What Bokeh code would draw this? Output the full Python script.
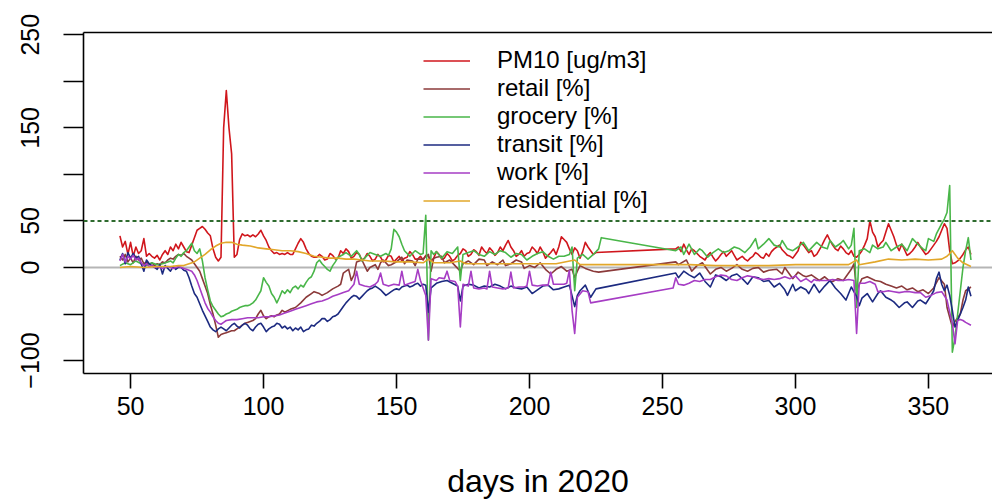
from bokeh.plotting import figure
from bokeh.models import Range1d, LinearAxis, Span, Legend, LegendItem, FixedTicker
from bokeh.embed import file_html
from bokeh.resources import INLINE

# ---- data (day of 2020, value) ----
pm10 = [(46,34),(47,22),(48,28),(49,14),(50,27),(51,12),(52,22),(53,15),(54,18),(55,31),(56,12),(57,15),
        (58,12),(59,10),(60,13),(61,8),(62,14),(63,18),(64,14),(65,22),(66,18),(67,25),(68,20),(69,27),
        (70,22),(71,17),(72,16),(73,24),(74,32),(75,40),(76,42),(77,44),(78,41),(79,37),(80,34),(81,20),
        (82,11),(83,7),(84,11),(85,150),(86,190),(87,150),(88,122),(89,11),(90,14),(91,30),(92,36),(93,34),
        (94,35),(95,33),(96,35),(97,33),(98,36),(99,40),(100,34),(101,29),(102,22),(103,18),(104,15),
        (105,16),(106,14),(107,15),(108,14),(109,16),(110,14),(111,14),(112,20),(113,26),(114,31),(115,27),
        (116,20),(117,15),(118,12),(119,11),(120,11),(121,14),(122,12),(123,8),(124,9),(125,15),(126,13),
        (127,9),(128,10),(129,18),(130,15),(131,20),(132,17),(133,10),(134,12),(135,16),(136,14),(137,8),
        (138,10),(139,15),(140,12),(141,7),(142,9),(143,14),(144,11),(145,6),(146,8),(147,13),(148,12),
        (149,6),(150,9),(151,12),(152,7),(153,10),(154,11),(155,17),(156,14),(157,9),(158,9),(159,12),
        (160,8),(161,13),(162,12),(163,7),(164,10),(165,17),(166,14),(167,9),(168,10),(169,15),(170,12),
        (171,7),(172,9),(173,13),(174,15),(175,20),(176,18),(177,12),(178,14),(179,19),(180,17),(181,13),
        (182,22),(183,18),(184,15),(185,21),(186,18),(187,13),(188,16),(189,22),(190,18),(191,24),(192,29),
        (193,22),(194,18),(195,12),(196,14),(197,18),(198,12),(199,15),(200,16),(201,22),(202,19),(203,15),
        (204,22),(205,17),(206,10),(207,13),(208,16),(209,20),(210,14),(211,22),(212,33),(213,30),(214,27),
        (215,20),(216,14),(217,21),(218,18),(219,10),(220,17),(221,27),(222,22),(223,18),(224,14),(225,16),
        (255,20),(256,22),(257,17),(258,25),(259,19),(260,14),(261,20),(262,18),(263,15),(264,12),(265,10),
        (266,8),(267,13),(268,16),(269,11),(270,7),(271,10),(272,14),(273,17),(274,12),(275,15),(276,18),
        (277,13),(278,8),(279,10),(280,12),(281,9),(282,7),(283,10),(284,12),(285,16),(286,14),(287,11),
        (288,10),(289,15),(290,12),(291,17),(292,20),(293,22),(294,24),(295,19),(296,16),(297,13),(298,12),
        (299,10),(300,14),(301,18),(302,27),(303,24),(304,20),(305,16),(306,18),(307,12),(308,14),(309,19),
        (310,24),(311,30),(312,35),(313,29),(314,24),(315,20),(316,18),(317,23),(318,20),(319,16),(320,14),
        (321,18),(322,12),(323,11),(324,14),(325,18),(326,24),(327,31),(328,50),(329,38),(330,33),
        (331,22),(332,26),(333,29),(334,38),(335,47),(336,40),(337,33),(338,24),(339,18),(340,25),(341,19),
        (342,13),(343,15),(344,18),(345,22),(346,27),(347,22),(348,18),(349,14),(350,16),(351,20),(352,24),
        (353,28),(354,33),(355,40),(356,47),(357,42),(358,18),(359,4),(360,5),(361,7),(362,10),(363,14),
        (364,19),(365,22),(366,14)]

retail = [(46,12),(47,8),(48,14),(49,6),(50,10),(51,5),(52,12),(53,8),(54,10),(55,4),(56,6),(57,3),(58,5),
          (59,2),(60,4),(61,3),(62,6),(63,5),(64,8),(65,10),(66,9),(67,12),(68,14),(69,13),(70,15),(71,12),
          (72,10),(73,8),(74,4),(75,0),(76,-4),(77,-12),(78,-20),(79,-28),(80,-40),(81,-50),(82,-62),(83,-75),
          (84,-72),(85,-71),(86,-70),(87,-69),(88,-68),(89,-68),(90,-66),(91,-64),(92,-62),(93,-60),(94,-59),
          (95,-58),(96,-57),(97,-55),(98,-50),(99,-46),(100,-52),(101,-55),(102,-53),(103,-52),(104,-53),
          (105,-51),(106,-50),(107,-46),(108,-48),(110,-45),(112,-43),(114,-38),(116,-32),(118,-28),(119,-26),
          (121,-28),(122,-30),(124,-27),(126,-23),(128,-20),(129,-18),(130,-6),(131,-4),(132,-2),(133,-14),
          (134,-8),(135,6),(136,7),(137,8),(138,2),(139,-4),(140,0),(142,3),(143,-2),(144,5),(145,8),(147,2),
          (148,3),(150,6),(152,11),(153,4),(154,8),(156,7),(157,2),(158,9),(160,9),(161,12),(162,14),(163,-4),
          (164,10),(165,11),(167,12),(168,5),(170,8),(172,2),(174,-4),(175,4),(177,7),(179,3),(181,9),(183,8),
          (184,2),(186,6),(188,3),(190,8),(191,2),(193,4),(195,8),(197,6),(198,-1),(200,2),(202,0),(204,5),
          (206,-2),(208,-7),(210,-2),(212,1),(214,-4),(216,-2),(217,-11),(218,-4),(219,2),(221,-1),(224,-4),
          (226,-5),(255,6),(256,3),(259,8),(261,-4),(263,2),(265,5),(268,-7),(270,-2),(272,0),(274,-4),
          (276,-1),(278,3),(280,-2),(282,-4),(284,-1),(286,0),(288,-5),(290,-3),(293,-2),(295,-7),(296,0),
          (298,-8),(299,-12),(301,-5),(303,-9),(304,-10),(306,-8),(308,-12),(309,-14),(311,-10),(313,-15),
          (314,-15),(316,-12),(318,-14),(319,-10),(321,-2),(322,4),(323,-25),(325,-12),(327,-10),(330,-14),
          (332,-15),(334,-18),(336,-20),(338,-22),(340,-20),(342,-24),(344,-22),(346,-26),(348,-24),(350,-28),
          (352,-22),(354,-11),(356,-18),(357,-43),(359,-64),(360,-58),(362,-50),(363,-35),(364,-25),(366,-21)]

grocery = [(46,2),(48,5),(50,3),(52,7),(54,4),(56,2),(58,5),(60,3),(62,4),(64,6),(65,7),(66,5),(67,10),
           (68,14),(69,12),(70,16),(71,18),(72,22),(73,26),(74,18),(75,15),(76,20),(77,7),(78,-11),(79,-24),
           (80,-36),(81,-42),(82,-46),(83,-50),(84,-53),(85,-52),(86,-50),(87,-49),(88,-47),(89,-46),(90,-45),
           (91,-43),(92,-42),(93,-41),(94,-41),(95,-40),(96,-38),(97,-35),(98,-30),(99,-25),(100,-11),
           (101,-16),(102,-20),(103,-28),(104,-32),(105,-38),(106,-32),(107,-25),(108,-28),(109,-24),
           (110,-27),(111,-22),(112,-20),(113,-23),(114,-19),(115,-21),(116,-16),(117,-12),(118,-10),
           (119,-4),(120,5),(121,8),(122,4),(123,1),(124,-2),(125,-4),(126,2),(127,6),(128,11),(130,14),
           (131,16),(133,12),(135,18),(136,14),(137,7),(138,10),(140,16),(142,14),(144,12),(146,15),(147,13),
           (148,20),(149,41),(150,38),(151,33),(152,25),(153,18),(155,12),(156,15),(157,18),(159,14),(160,15),
           (161,56),(162,-78),(163,18),(164,14),(165,17),(167,10),(169,17),(171,15),(173,22),(174,-14),
           (175,14),(177,16),(179,18),(181,14),(183,12),(185,17),(187,14),(189,18),(191,16),(193,11),(195,15),
           (197,14),(199,8),(201,12),(203,15),(205,17),(207,12),(209,9),(211,12),(213,12),(215,14),(216,22),
           (217,-25),(218,10),(220,14),(222,9),(224,14),(226,20),(227,32),(255,18),(257,22),(258,14),(260,25),
           (262,14),(264,20),(265,18),(267,11),(269,16),(271,20),(273,16),(275,18),(277,22),(279,20),(281,16),
           (283,22),(285,31),(286,20),(288,25),(290,31),(292,24),(294,22),(295,29),(297,20),(299,18),(301,22),
           (303,27),(305,18),(307,24),(308,27),(310,22),(312,20),(313,29),(315,22),(317,26),(318,29),(320,20),
           (321,24),(322,42),(323,-43),(324,18),(326,20),(328,16),(329,24),(331,20),(333,22),(334,27),(336,18),
           (338,22),(340,25),(342,18),(344,31),(346,25),(348,20),(349,18),(350,31),(352,28),(353,36),(355,47),
           (356,52),(357,59),(358,88),(359,-91),(360,-75),(361,-50),(362,-25),(363,0),(364,18),(365,32),(366,8)]

transit = [(46,8),(47,15),(48,4),(49,16),(50,10),(51,15),(52,10),(53,12),(54,4),(55,-4),(56,8),(57,4),(58,2),
           (59,0),(60,-2),(61,3),(62,-7),(63,2),(64,-1),(65,-4),(66,1),(67,-2),(68,0),(69,0),(70,-3),(71,-4),
           (72,-11),(73,-20),(74,-28),(75,-32),(76,-39),(77,-46),(78,-52),(79,-58),(80,-64),(81,-67),(82,-69),
           (83,-66),(84,-64),(85,-66),(86,-68),(87,-65),(88,-62),(89,-60),(90,-63),(91,-65),(92,-62),(93,-60),
           (94,-62),(95,-66),(96,-68),(97,-64),(98,-61),(99,-60),(100,-64),(101,-69),(102,-66),(103,-64),
           (104,-63),(105,-60),(106,-61),(107,-65),(108,-63),(109,-66),(110,-64),(111,-68),(112,-65),
           (113,-67),(114,-64),(115,-69),(116,-67),(117,-66),(118,-62),(119,-63),(120,-60),(121,-58),
           (122,-55),(123,-55),(124,-58),(125,-56),(126,-53),(127,-52),(128,-50),(129,-46),(130,-42),
           (131,-38),(132,-35),(133,-32),(134,-30),(135,-31),(136,-34),(137,-31),(138,-28),(139,-25),
           (140,-23),(141,-22),(142,-20),(143,-22),(144,-24),(145,-27),(146,-30),(147,-28),(148,-26),
           (149,-24),(150,-23),(151,-24),(152,-21),(153,-20),(154,-19),(155,-21),(156,-20),(157,-18),
           (158,-17),(159,-20),(160,-18),(161,-19),(162,-48),(163,-22),(165,-17),(167,-15),(169,-14),(171,-17),
           (173,-20),(174,-36),(175,-20),(177,-18),(179,-19),(181,-22),(183,-20),(185,-21),(187,-18),(189,-20),
           (191,-23),(193,-20),(195,-22),(197,-23),(199,-21),(201,-28),(203,-24),(205,-20),(207,-19),(209,-24),
           (211,-23),(213,-21),(215,-19),(217,-42),(218,-30),(219,-25),(221,-19),(223,-32),(225,-23),(255,-6),
           (256,-11),(258,-4),(260,-8),(262,-11),(264,-6),(266,-15),(268,-21),(270,-8),(272,-10),(274,-14),
           (276,-9),(278,-7),(280,-12),(282,-18),(284,-10),(286,-11),(288,-15),(290,-14),(292,-21),(294,-17),
           (296,-24),(297,-30),(299,-18),(300,-25),(302,-21),(304,-24),(305,-28),(307,-18),(309,-27),(311,-20),
           (313,-14),(315,-22),(317,-28),(319,-35),(321,-21),(323,-31),(324,-41),(325,-33),(327,-28),(329,-37),
           (331,-28),(332,-25),(334,-32),(336,-35),(337,-37),(339,-43),(341,-38),(342,-37),(344,-43),(346,-36),
           (347,-35),(349,-39),(351,-30),(352,-25),(353,-12),(354,-5),(355,-18),(356,-25),(357,-19),(358,-30),
           (359,-46),(360,-64),(361,-57),(362,-50),(363,-43),(364,-35),(365,-21),(366,-31)]

work = [(46,7),(47,14),(48,6),(49,12),(50,9),(51,13),(52,8),(53,10),(54,5),(55,2),(56,4),(57,1),(58,2),(59,0),
        (60,1),(61,0),(62,-1),(63,0),(64,1),(65,0),(66,-1),(67,0),(68,1),(69,0),(70,-1),(71,-2),(72,-3),(73,-4),
        (74,-8),(75,-14),(76,-22),(77,-30),(78,-38),(79,-44),(80,-48),(81,-53),(82,-57),(83,-60),(84,-61),
        (85,-59),(86,-57),(88,-56),(90,-56),(92,-55),(94,-54),(96,-54),(98,-54),(100,-53),(102,-53),(104,-52),
        (106,-51),(108,-49),(110,-47),(112,-45),(114,-43),(116,-41),(118,-39),(120,-37),(122,-36),(124,-34),
        (126,-31),(128,-29),(130,-27),(132,-25),(134,-18),(135,-4),(136,-18),(138,-20),(140,-21),(142,-18),
        (143,-15),(144,-6),(145,-18),(147,-20),(149,-18),(151,-19),(152,-4),(153,-19),(155,-17),(157,-15),
        (158,-2),(159,-14),(161,-30),(162,-78),(163,-12),(165,-14),(166,-11),(168,-12),(169,-4),(170,-14),
        (172,-15),(173,-20),(174,-64),(175,-18),(177,-20),(178,-4),(179,-22),(181,-23),(183,-22),(184,-23),
        (185,-4),(186,-21),(188,-22),(190,-23),(192,-22),(193,-5),(194,-22),(196,-21),(198,-21),(199,-20),
        (200,-4),(201,-19),(203,-20),(205,-19),(207,-19),(208,-5),(209,-18),(211,-18),(213,-18),(214,-17),
        (215,-3),(216,-46),(217,-71),(218,-32),(220,-25),(222,-26),(223,-38),(254,-22),(255,-11),(256,-18),
        (258,-19),(260,-17),(262,-14),(264,-15),(266,-13),(268,-13),(270,-10),(272,-8),(274,-9),(276,-13),
        (278,-14),(280,-11),(282,-9),(284,-10),(286,-12),(288,-13),(290,-12),(292,-13),(294,-12),(296,-10),
        (298,-12),(300,-9),(302,-15),(304,-12),(306,-16),(307,-13),(308,-14),(310,-14),(312,-14),(314,-13),
        (316,-14),(318,-14),(320,-13),(322,-14),(323,-71),(324,-17),(326,-17),(328,-15),(330,-18),(331,-26),
        (333,-26),(335,-25),(337,-26),(339,-27),(341,-26),(343,-26),(345,-27),(347,-27),(349,-32),(351,-30),
        (353,-27),(355,-26),(357,-35),(358,-48),(359,-60),(360,-82),(361,-57),(362,-56),(363,-57),(364,-59),
        (366,-62)]

residential = [(46,0),(50,1),(55,0),(60,1),(65,1),(68,2),(70,2),(72,4),(74,6),(76,10),(78,14),(80,19),(82,23),
               (84,26),(86,27),(88,27),(90,25),(92,24),(95,23),(98,21),(101,20),(104,19),(107,18),(110,18),
               (113,17),(116,15),(119,12),(122,11),(125,10),(128,10),(131,9),(134,9),(137,8),(140,7),(145,7),
               (150,6),(155,6),(160,5),(162,9),(164,5),(170,5),(174,7),(176,4),(180,4),(190,4),(200,4),(210,4),
               (217,8),(219,3),(226,3),(255,3),(260,3),(270,2),(280,2),(290,2),(300,3),(310,3),(320,3),(323,8),
               (324,3),(330,6),(335,9),(340,8),(345,9),(350,8),(355,9),(357,12),(359,18),(361,10),(363,5),(366,1)]

series_names = ["PM10 [ug/m3]", "retail [%]", "grocery [%]", "transit [%]", "work [%]", "residential [%]"]
series_data = [pm10, retail, grocery, transit, work, residential]
series_colors = ["#D0161C", "#8B3A3A", "#49B649", "#1C2A80", "#A63DC4", "#E2A72A"]

x_ticks = [50, 100, 150, 200, 250, 300, 350]
y_ticks = [-100, -50, 0, 50, 100, 150, 200, 250]
y_hidden = [-50, 100, 200]
threshold = 50
FONT = "Liberation Sans"

p = figure(width=992, height=501, output_backend="svg", toolbar_location=None,
           x_range=Range1d(32.3, 374.1), y_range=Range1d(-113.9, 252.4),
           min_border_left=83, min_border_right=0, min_border_top=32, min_border_bottom=128,
           background_fill_color="white", border_fill_color="white")
p.outline_line_color = None
p.xgrid.visible = False
p.ygrid.visible = False

for ax in (p.xaxis[0], p.yaxis[0]):
    ax.axis_line_width = 1.6
    ax.axis_line_color = "black"
    ax.major_tick_line_width = 1.6
    ax.major_tick_line_color = "black"
    ax.major_tick_in = 0
    ax.minor_tick_line_color = None
    ax.major_label_text_font = FONT
    ax.major_label_text_font_size = "25px"
    ax.major_label_text_color = "black"

p.xaxis.ticker = FixedTicker(ticks=x_ticks)
p.xaxis.major_tick_out = 15
p.xaxis.major_label_standoff = 8
p.xaxis.axis_label = "days in 2020"
p.xaxis.axis_label_text_font = FONT
p.xaxis.axis_label_text_font_size = "32px"
p.xaxis.axis_label_text_font_style = "normal"
p.xaxis.axis_label_text_color = "black"
p.xaxis.axis_label_standoff = 45

p.yaxis.ticker = FixedTicker(ticks=y_ticks)
p.yaxis.major_label_overrides = {v: "" for v in y_hidden}
p.yaxis.major_tick_out = 20
p.yaxis.major_label_standoff = 24
p.yaxis.major_label_orientation = "vertical"

top = LinearAxis(ticker=FixedTicker(ticks=[]), axis_line_width=1.6, axis_line_color="black",
                 major_tick_line_color=None, minor_tick_line_color=None,
                 major_label_text_font_size="0px")
p.add_layout(top, "above")

p.add_layout(Span(location=0, dimension="width", line_color="#B5B5B5", line_width=2, level="underlay"))

items = []
for name, data, col in zip(series_names, series_data, series_colors):
    xs = [d for d, v in data]
    ys = [v for d, v in data]
    r = p.line(xs, ys, line_color=col, line_width=1.6, line_join="round")
    items.append(LegendItem(label=name, renderers=[r]))

p.add_layout(Span(location=threshold, dimension="width", line_color="#2E6B2E", line_width=2,
                  line_dash="4 3"))

legend = Legend(items=items, location=(340, 159), orientation="vertical",
                label_text_font=FONT, label_text_font_size="24px", label_text_color="black",
                glyph_width=47, glyph_height=27, label_height=27, spacing=0, padding=0, margin=0,
                label_standoff=27, border_line_color=None, background_fill_alpha=0)
p.add_layout(legend)

open("out.html", "w").write(file_html(p, INLINE))
